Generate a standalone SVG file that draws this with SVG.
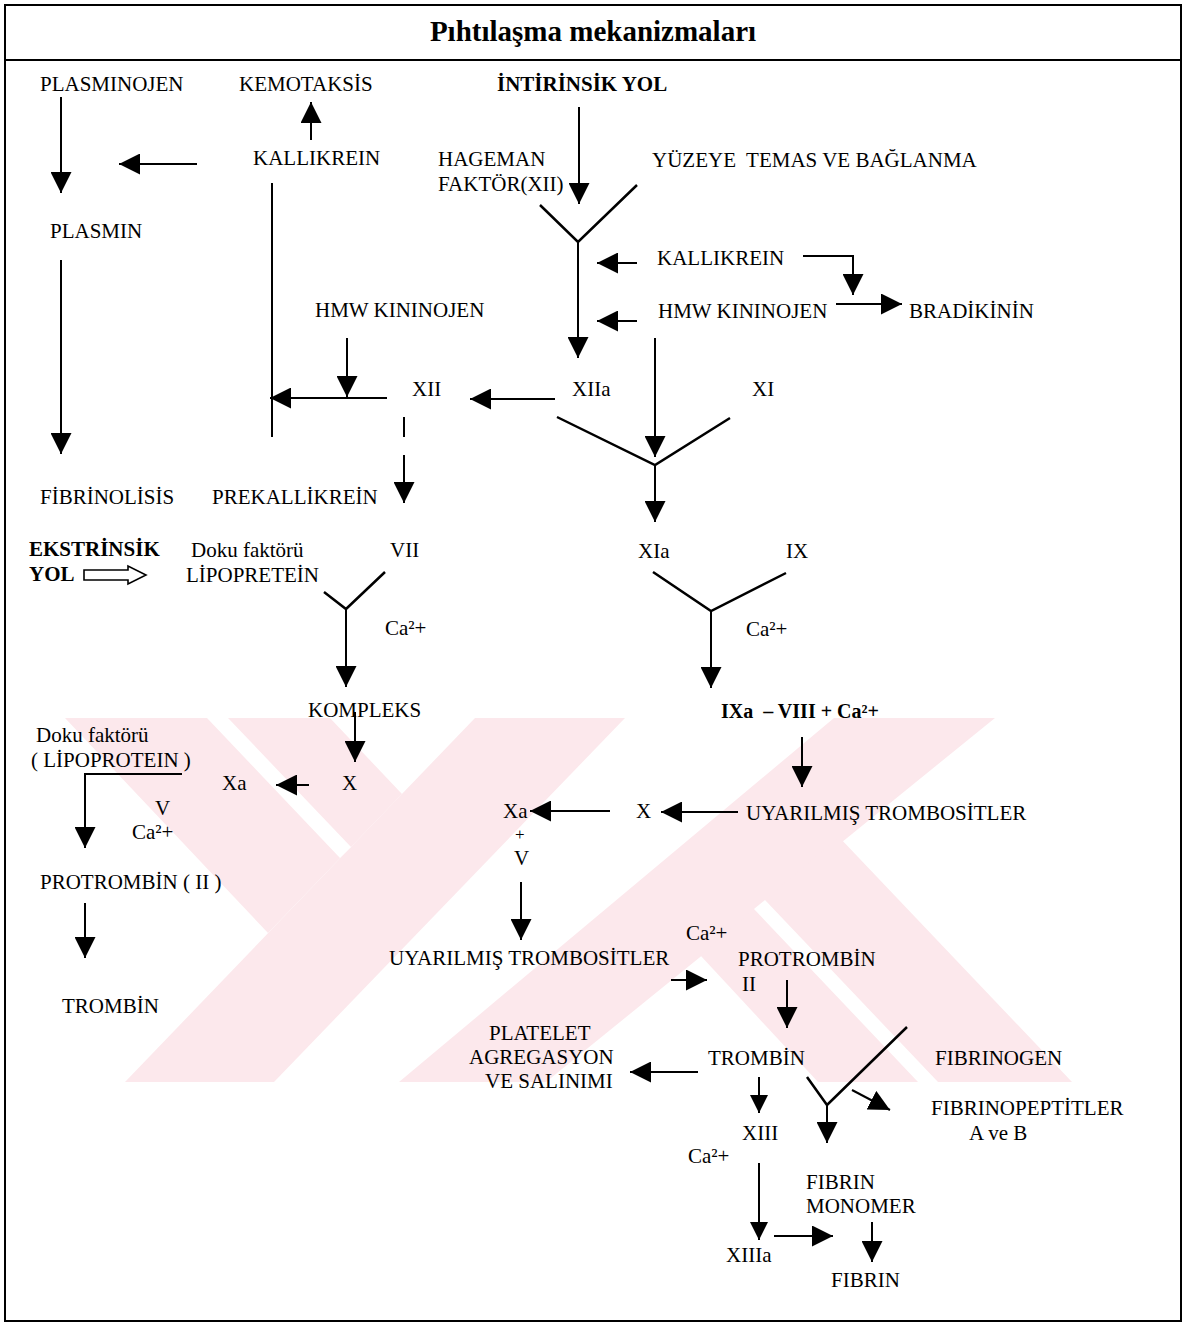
<svg xmlns="http://www.w3.org/2000/svg" width="1193" height="1323" viewBox="0 0 1193 1323">
<defs>
<style>
.t{font-family:'Liberation Serif','Times New Roman',serif;font-size:21px;fill:#000}
.b{font-weight:bold}
.pre{white-space:pre}
.ln{stroke:#000;stroke-width:2;fill:none}
.y{stroke:#000;stroke-width:2.5;fill:none}
.wm{fill:#fce8ec}
.ws{fill:#fff}
</style>
<marker id="ah" viewBox="0 0 21 21" refX="21" refY="10.5" markerWidth="21" markerHeight="21" markerUnits="userSpaceOnUse" orient="auto"><path d="M0,0 L21,10.5 L0,21 Z" fill="#000"/></marker>
<marker id="as" viewBox="0 0 18 18" refX="18" refY="9" markerWidth="18" markerHeight="18" markerUnits="userSpaceOnUse" orient="auto"><path d="M0,0 L18,9 L0,18 Z" fill="#000"/></marker>
</defs>
<rect x="0" y="0" width="1193" height="1323" fill="#fff"/>
<g id="watermark">
<polygon class="wm" points="475,718 625,718 274,1082 125,1082"/>
<polygon class="wm" points="65,718 330,718 402,794 268,933"/>
<polygon class="ws" points="207,718 228,718 351,847 340,858"/>
<polygon class="wm" points="834,718 995,718 546,1082 399,1082"/>
<polygon class="wm" points="1072,1082 818,1082 700,955 839,837"/>
<polygon class="ws" points="918,1082 938,1082 765,900 754,909"/>
</g>
<g id="frame">
<rect x="5" y="5" width="1176" height="1316" fill="none" stroke="#000" stroke-width="2"/>
<line x1="5" y1="60" x2="1181" y2="60" stroke="#000" stroke-width="2"/>
</g>
<g id="title"><text class="t b" x="593" y="41" text-anchor="middle" style="font-size:29px">Pıhtılaşma mekanizmaları</text></g>

<g id="connectors">
<line class="ln" x1="61" y1="97" x2="61" y2="193" marker-end="url(#ah)"/>
<line class="ln" x1="61" y1="260" x2="61" y2="454" marker-end="url(#ah)"/>
<line class="ln" x1="311" y1="140" x2="311" y2="102" marker-end="url(#ah)"/>
<line class="ln" x1="197" y1="164" x2="119" y2="164" marker-end="url(#ah)"/>
<line class="ln" x1="272" y1="183" x2="272" y2="437"/>
<line class="ln" x1="347" y1="338" x2="347" y2="397" marker-end="url(#ah)"/>
<line class="ln" x1="387" y1="398" x2="270" y2="398" marker-end="url(#ah)"/>
<line class="ln" x1="555" y1="399" x2="470" y2="399" marker-end="url(#ah)"/>
<path class="ln" d="M404,417 V437 M404,455 V503" marker-end="url(#ah)"/>
<line class="ln" x1="579" y1="107" x2="579" y2="204" marker-end="url(#ah)"/>
<polyline class="y" points="540,205 578,242 637,185"/>
<line class="ln" x1="578" y1="242" x2="578" y2="358" marker-end="url(#ah)"/>
<line class="ln" x1="637" y1="263" x2="597" y2="263" marker-end="url(#ah)"/>
<line class="ln" x1="637" y1="321" x2="597" y2="321" marker-end="url(#ah)"/>
<polyline class="ln" points="803,256 853,256 853,295" marker-end="url(#ah)"/>
<line class="ln" x1="836" y1="304" x2="902" y2="304" marker-end="url(#ah)"/>
<line class="ln" x1="655" y1="338" x2="655" y2="457" marker-end="url(#ah)"/>
<polyline class="y" points="557,417 655,465 730,418"/>
<line class="ln" x1="655" y1="465" x2="655" y2="522" marker-end="url(#ah)"/>
<polyline class="y" points="653,572 711,611 786,573"/>
<line class="ln" x1="711" y1="611" x2="711" y2="688" marker-end="url(#ah)"/>
<polyline class="y" points="324,592 346,609 385,572"/>
<line class="ln" x1="346" y1="609" x2="346" y2="687" marker-end="url(#ah)"/>
<line class="ln" x1="355" y1="712" x2="355" y2="762" marker-end="url(#ah)"/>
<line class="ln" x1="309" y1="785" x2="276" y2="785" marker-end="url(#ah)"/>
<polyline class="ln" points="182,774 85,774 85,848" marker-end="url(#ah)"/>
<line class="ln" x1="85" y1="903" x2="85" y2="958" marker-end="url(#ah)"/>
<line class="ln" x1="802" y1="737" x2="802" y2="787" marker-end="url(#ah)"/>
<line class="ln" x1="738" y1="812" x2="661" y2="812" marker-end="url(#ah)"/>
<line class="ln" x1="610" y1="811" x2="530" y2="811" marker-end="url(#ah)"/>
<line class="ln" x1="521" y1="882" x2="521" y2="940" marker-end="url(#ah)"/>
<line class="ln" x1="671" y1="980" x2="707" y2="980" marker-end="url(#ah)"/>
<line class="ln" x1="787" y1="980" x2="787" y2="1028" marker-end="url(#ah)"/>
<line class="ln" x1="698" y1="1072" x2="630" y2="1072" marker-end="url(#ah)"/>
<line class="ln" x1="759" y1="1077" x2="759" y2="1113" marker-end="url(#as)"/>
<polyline class="y" points="807,1077 827,1105 907,1027"/>
<line class="ln" x1="827" y1="1105" x2="827" y2="1143" marker-end="url(#ah)"/>
<line class="ln" x1="852" y1="1090" x2="890" y2="1110" marker-end="url(#ah)"/>
<line class="ln" x1="759" y1="1163" x2="759" y2="1240" marker-end="url(#as)"/>
<line class="ln" x1="774" y1="1236" x2="833" y2="1236" marker-end="url(#ah)"/>
<line class="ln" x1="872" y1="1222" x2="872" y2="1262" marker-end="url(#ah)"/>
</g>

<g id="n-plasminojen"><text class="t" x="40" y="91">PLASMINOJEN</text></g>
<g id="n-kemotaksis"><text class="t" x="239" y="91">KEMOTAKSİS</text></g>
<g id="n-intrinsik"><text class="t b" x="497" y="91">İNTİRİNSİK YOL</text></g>
<g id="n-kallikrein1"><text class="t" x="253" y="165">KALLIKREIN</text></g>
<g id="n-hageman"><text class="t" x="438" y="166">HAGEMAN</text><text class="t" x="438" y="191">FAKTÖR(XII)</text></g>
<g id="n-yuzeye"><text class="t pre" x="652" y="167">YÜZEYE  TEMAS VE BAĞLANMA</text></g>
<g id="n-plasmin"><text class="t" x="50" y="238">PLASMIN</text></g>
<g id="n-kallikrein2"><text class="t" x="657" y="265">KALLIKREIN</text></g>
<g id="n-hmw1"><text class="t" x="315" y="317">HMW KININOJEN</text></g>
<g id="n-hmw2"><text class="t" x="658" y="318">HMW KININOJEN</text></g>
<g id="n-bradikinin"><text class="t" x="909" y="318">BRADİKİNİN</text></g>
<g id="n-xii"><text class="t" x="412" y="396">XII</text></g>
<g id="n-xiia"><text class="t" x="572" y="396">XIIa</text></g>
<g id="n-xi"><text class="t" x="752" y="396">XI</text></g>
<g id="n-fibrinolisis"><text class="t" x="40" y="504">FİBRİNOLİSİS</text></g>
<g id="n-prekallikrein"><text class="t" x="212" y="504">PREKALLİKREİN</text></g>
<g id="n-ekstrinsik"><text class="t b" x="29" y="556">EKSTRİNSİK</text><text class="t b" x="29" y="581">YOL</text>
<polygon points="84,570 128,570 128,566 146,575 128,584 128,580 84,580" fill="#fff" stroke="#000" stroke-width="1.6"/></g>
<g id="n-dokufaktoru1"><text class="t" x="191" y="557">Doku faktörü</text><text class="t" x="186" y="582">LİPOPRETEİN</text></g>
<g id="n-vii"><text class="t" x="390" y="557">VII</text></g>
<g id="n-xia"><text class="t" x="638" y="558">XIa</text></g>
<g id="n-ix"><text class="t" x="786" y="558">IX</text></g>
<g id="n-ca1"><text class="t" x="385" y="635">Ca²+</text></g>
<g id="n-ca2"><text class="t" x="746" y="636">Ca²+</text></g>
<g id="n-kompleks"><text class="t" x="308" y="717">KOMPLEKS</text></g>
<g id="n-ixa"><text class="t b pre" x="721" y="718" style="font-size:20px">IXa  – VIII + Ca²+</text></g>
<g id="n-dokufaktoru2"><text class="t" x="36" y="742">Doku faktörü</text><text class="t pre" x="31" y="767">( LİPOPROTEIN )</text></g>
<g id="n-xa1"><text class="t" x="222" y="790">Xa</text></g>
<g id="n-x1"><text class="t" x="342" y="790">X</text></g>
<g id="n-v1"><text class="t" x="155" y="815">V</text></g>
<g id="n-ca3"><text class="t" x="132" y="839">Ca²+</text></g>
<g id="n-protrombin1"><text class="t" x="40" y="889">PROTROMBİN ( II )</text></g>
<g id="n-trombin1"><text class="t" x="62" y="1013">TROMBİN</text></g>
<g id="n-xa2"><text class="t" x="503" y="818">Xa</text></g>
<g id="n-x2"><text class="t" x="636" y="818">X</text></g>
<g id="n-uyarilmis1"><text class="t" x="746" y="820">UYARILMIŞ TROMBOSİTLER</text></g>
<g id="n-plus"><text class="t" x="515" y="840" style="font-size:17px">+</text></g>
<g id="n-v2"><text class="t" x="514" y="865">V</text></g>
<g id="n-ca4"><text class="t" x="686" y="940">Ca²+</text></g>
<g id="n-uyarilmis2"><text class="t" x="389" y="965">UYARILMIŞ TROMBOSİTLER</text></g>
<g id="n-protrombin2"><text class="t" x="738" y="966">PROTROMBİN</text><text class="t" x="742" y="991">II</text></g>
<g id="n-platelet"><text class="t" x="489" y="1040">PLATELET</text><text class="t" x="469" y="1064">AGREGASYON</text><text class="t" x="485" y="1088">VE SALINIMI</text></g>
<g id="n-trombin2"><text class="t" x="708" y="1065">TROMBİN</text></g>
<g id="n-fibrinogen"><text class="t" x="935" y="1065">FIBRINOGEN</text></g>
<g id="n-fibrinopeptitler"><text class="t" x="931" y="1115">FIBRINOPEPTİTLER</text><text class="t" x="969" y="1140">A ve B</text></g>
<g id="n-xiii"><text class="t" x="742" y="1140">XIII</text></g>
<g id="n-ca5"><text class="t" x="688" y="1163">Ca²+</text></g>
<g id="n-fibrin-monomer"><text class="t" x="806" y="1189">FIBRIN</text><text class="t" x="806" y="1213">MONOMER</text></g>
<g id="n-xiiia"><text class="t" x="726" y="1262">XIIIa</text></g>
<g id="n-fibrin"><text class="t" x="831" y="1287">FIBRIN</text></g>
</svg>
